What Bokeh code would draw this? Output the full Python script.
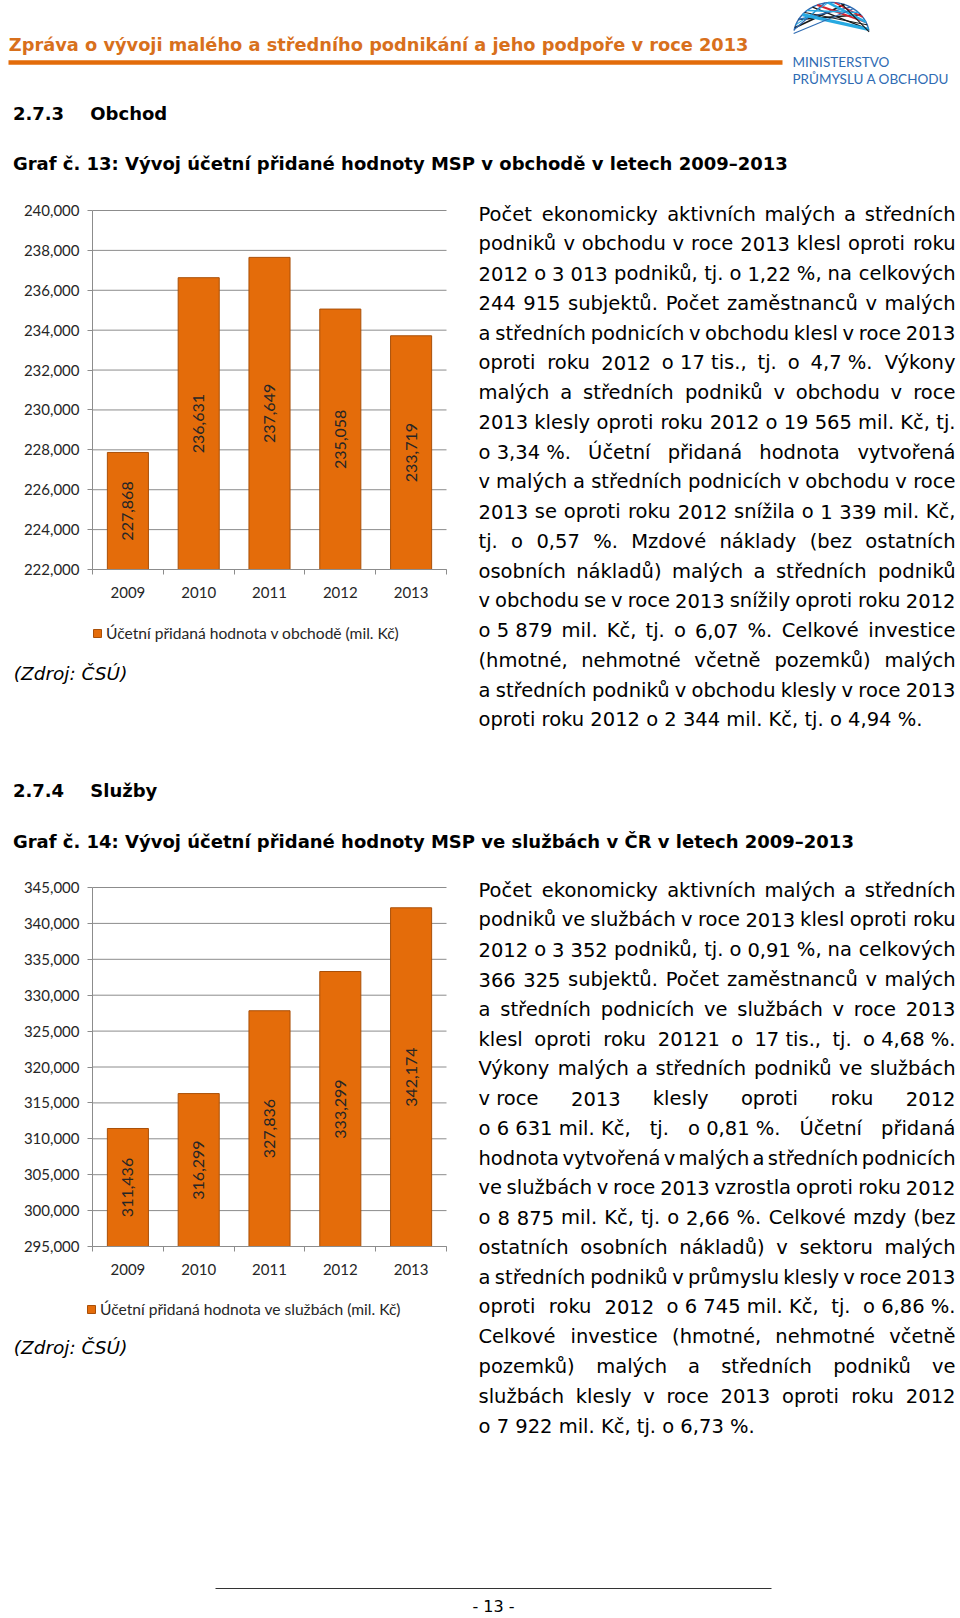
import numpy as np
from math import pi
from bokeh.plotting import figure
from bokeh.models import (ColumnDataSource, Range1d, FixedTicker, NumeralTickFormatter,
                          Legend, LegendItem, Label)
from bokeh.layouts import column, row
from bokeh.core.properties import value
from bokeh.embed import file_html
from bokeh.resources import INLINE

# ---------------- data ----------------
years = ["2009", "2010", "2011", "2012", "2013"]
obchod_values = [227868, 236631, 237649, 235058, 233719]
sluzby_values = [311436, 316299, 327836, 333299, 342174]
obchod_ticks = list(range(222000, 240001, 2000))
sluzby_ticks = list(range(295000, 345001, 5000))
obchod_legend = "Účetní přidaná hodnota v obchodě (mil. Kč)"
sluzby_legend = "Účetní přidaná hodnota ve službách (mil. Kč)"

header_title = "Zpráva o vývoji malého a středního podnikání a jeho podpoře v roce 2013"
logo_lines = ["MINISTERSTVO", "PRŮMYSLU A OBCHODU"]
sec1_num, sec1_name = "2.7.3", "Obchod"
graf1_title = "Graf č. 13: Vývoj účetní přidané hodnoty MSP v obchodě v letech 2009–2013"
sec2_num, sec2_name = "2.7.4", "Služby"
graf2_title = "Graf č. 14: Vývoj účetní přidané hodnoty MSP ve službách v ČR v letech 2009–2013"
source_note = "(Zdroj: ČSÚ)"
page_number = "- 13 -"

NB = "\u00a0"
para1 = [
    "Počet ekonomicky aktivních malých a středních",
    "podniků v obchodu v roce 2013 klesl oproti roku",
    "2012 o 3 013 podniků, tj. o 1,22 %, na celkových",
    "244 915 subjektů. Počet zaměstnanců v malých",
    "a středních podnicích v obchodu klesl v roce 2013",
    f"oproti roku 2012 o{NB}17{NB}tis., tj. o 4,7{NB}%. Výkony",
    "malých a středních podniků v obchodu v roce",
    "2013 klesly oproti roku 2012 o 19 565 mil. Kč, tj.",
    f"o{NB}3,34{NB}%. Účetní přidaná hodnota vytvořená",
    "v malých a středních podnicích v obchodu v roce",
    "2013 se oproti roku 2012 snížila o 1 339 mil. Kč,",
    "tj. o 0,57 %. Mzdové náklady (bez ostatních",
    "osobních nákladů) malých a středních podniků",
    "v obchodu se v roce 2013 snížily oproti roku 2012",
    f"o{NB}5{NB}879 mil. Kč, tj. o 6,07 %. Celkové investice",
    "(hmotné, nehmotné včetně pozemků) malých",
    "a středních podniků v obchodu klesly v roce 2013",
    "oproti roku 2012 o 2 344 mil. Kč, tj. o 4,94 %.",
]
para2 = [
    "Počet ekonomicky aktivních malých a středních",
    "podniků ve službách v roce 2013 klesl oproti roku",
    "2012 o 3 352 podniků, tj. o 0,91 %, na celkových",
    "366 325 subjektů. Počet zaměstnanců v malých",
    "a středních podnicích ve službách v roce 2013",
    f"klesl oproti roku 20121 o 17{NB}tis., tj. o{NB}4,68{NB}%.",
    "Výkony malých a středních podniků ve službách",
    f"v{NB}roce 2013 klesly oproti roku 2012",
    f"o{NB}6{NB}631{NB}mil.{NB}Kč, tj. o{NB}0,81{NB}%. Účetní přidaná",
    "hodnota vytvořená v malých a středních podnicích",
    "ve službách v roce 2013 vzrostla oproti roku 2012",
    "o 8 875 mil. Kč, tj. o 2,66 %. Celkové mzdy (bez",
    "ostatních osobních nákladů) v sektoru malých",
    "a středních podniků v průmyslu klesly v roce 2013",
    f"oproti roku 2012 o{NB}6{NB}745{NB}mil.{NB}Kč, tj. o{NB}6,86{NB}%.",
    "Celkové investice (hmotné, nehmotné včetně",
    "pozemků) malých a středních podniků ve",
    "službách klesly v roce 2013 oproti roku 2012",
    "o 7 922 mil. Kč, tj. o 6,73 %.",
]

# ---------------- styles ----------------
ORANGE = "#E46C0A"
BAR_LINE = "#A94F08"
GRID = "#8C8C8C"
DARK = "#262626"
TITLE_ORANGE = "#D8701C"
BODY_FONT = "DejaVu Sans"
CHART_FONT = "Lato"

# approximate DejaVu Sans advance widths (em)
W = {" ": .318, NB: .318, "%": .95, "(": .39, ")": .39, ",": .318, "-": .361, ".": .318,
     ":": .337, "A": .684, "C": .698, "K": .656, "M": .863, "P": .603, "U": .732,
     "V": .684, "Ú": .732, "Č": .698, "R": .695, "S": .635, "E": .632, "O": .787,
     "D": .770, "N": .748, "T": .611, "B": .686, "I": .295, "Y": .611, "L": .557,
     "H": .752, "G": .775, "Z": .685, "J": .295, "F": .575,
     "a": .613, "b": .635, "c": .55, "d": .635, "e": .615, "f": .352, "g": .635,
     "h": .634, "i": .278, "j": .278, "k": .579, "l": .278, "m": .974, "n": .634,
     "o": .612, "p": .635, "r": .411, "s": .521, "t": .392, "u": .634, "v": .592,
     "w": .818, "x": .592, "y": .592, "z": .525,
     "á": .613, "č": .55, "ě": .615, "é": .615, "í": .278, "ř": .411, "š": .521,
     "ů": .634, "ú": .634, "ý": .592, "ž": .525, "ň": .634}
for d in "0123456789":
    W[d] = .636


def tw(s, size):
    return sum(W.get(ch, 0.6) for ch in s) * size


def canvas(x0, x1, y0, y1):
    p = figure(width=int(x1 - x0), height=int(y1 - y0),
               x_range=Range1d(x0, x1), y_range=Range1d(y1, y0),
               x_axis_type=None, y_axis_type=None, min_border=0,
               output_backend="svg", toolbar_location=None)
    p.outline_line_color = None
    p.background_fill_color = "white"
    p.border_fill_color = "white"
    return p


def txt(p, x, y, s, size, font=BODY_FONT, style="normal", color="#000000", align="left"):
    p.text(x=[x], y=[y], text=[s], text_font=value(font), text_font_size=f"{size}px",
           text_font_style=style, text_color=color, text_align=align,
           text_baseline="middle")


def paragraph(p, lines, left, right, y0, pitch, size):
    buckets = {"left": ([], [], []), "center": ([], [], []), "right": ([], [], [])}
    for i, line in enumerate(lines):
        y = y0 + i * pitch
        toks = line.split(" ")
        if i == len(lines) - 1 or len(toks) == 1:
            b = buckets["left"]
            b[0].append(left); b[1].append(y); b[2].append(line)
            continue
        ws = [tw(t, size) for t in toks]
        gap = (right - left - sum(ws)) / (len(toks) - 1)
        x = left
        for j, (t, w) in enumerate(zip(toks, ws)):
            if j == 0:
                b = buckets["left"]; bx = left
            elif j == len(toks) - 1:
                b = buckets["right"]; bx = right
            else:
                b = buckets["center"]; bx = x + w / 2
            b[0].append(bx); b[1].append(y); b[2].append(t)
            x += w + gap
    for align, (xs, ys, ts) in buckets.items():
        if xs:
            p.text(x=xs, y=ys, text=ts, text_align=align, text_baseline="middle",
                   text_font=value(BODY_FONT), text_font_size=f"{size}px",
                   text_color="#000000")


def bar_chart(values, ticks, legend_label, fig_top, fig_bottom, frame_top, frame_bottom,
              leg_left, leg_center_y, note_left, note_center_y):
    """Figure spans page x 0..470; plot area spans page x 92..446."""
    fig_w, fx0, fx1 = 470, 92, 446
    n = len(years)
    ymin, ymax = ticks[0], ticks[-1]
    ux = (fx1 - fx0) / n
    uy = (frame_bottom - frame_top) / (ymax - ymin)
    xr = Range1d(-fx0 / ux, n + (fig_w - fx1) / ux)
    yr = Range1d(ymin - (fig_bottom - frame_bottom) / uy, ymax + (frame_top - fig_top) / uy)
    H = fig_bottom - fig_top
    p = figure(width=fig_w, height=H, x_range=xr, y_range=yr, min_border=0,
               output_backend="svg", toolbar_location=None)
    p.outline_line_color = None
    p.background_fill_color = "white"
    p.border_fill_color = "white"
    p.xgrid.visible = False
    p.ygrid.visible = False

    # horizontal gridlines at the tick values, spanning the category axis
    p.segment(x0=[0] * len(ticks), x1=[n] * len(ticks), y0=ticks, y1=ticks,
              line_color=GRID, line_width=1)

    src = ColumnDataSource(dict(
        x=[i + 0.5 for i in range(n)],
        top=values,
        mid=[(ymin + v) / 2 for v in values],
        label=[f"{v:,}" for v in values],
    ))
    r = p.vbar(x="x", top="top", bottom=ymin, width=0.58, source=src,
               fill_color=ORANGE, line_color=BAR_LINE, line_width=1)
    p.text(x="x", y="mid", text="label", angle=pi / 2, source=src,
           text_align="center", text_baseline="middle", text_font=value(CHART_FONT),
           text_font_size="16px", text_color=DARK)

    xa = p.xaxis[0]
    xa.fixed_location = ymin
    xa.bounds = (0, n)
    xa.ticker = FixedTicker(ticks=[i + 0.5 for i in range(n)],
                            minor_ticks=list(range(n + 1)))
    xa.major_label_overrides = {i + 0.5: y for i, y in enumerate(years)}
    xa.major_tick_out = 0
    xa.major_tick_in = 0
    xa.minor_tick_out = 5
    xa.minor_tick_in = 0
    xa.minor_tick_line_color = GRID
    xa.axis_line_color = GRID
    xa.major_label_standoff = 12
    xa.major_label_text_font = CHART_FONT
    xa.major_label_text_font_size = "15px"
    xa.major_label_text_color = DARK

    ya = p.yaxis[0]
    ya.fixed_location = 0
    ya.bounds = (ymin, ymax)
    ya.ticker = FixedTicker(ticks=ticks)
    ya.formatter = NumeralTickFormatter(format="0,0")
    ya.major_tick_out = 5
    ya.major_tick_in = 0
    ya.major_tick_line_color = GRID
    ya.minor_tick_line_color = None
    ya.axis_line_color = GRID
    ya.major_label_standoff = 8
    ya.major_label_text_font = CHART_FONT
    ya.major_label_text_font_size = "15px"
    ya.major_label_text_color = DARK

    leg_h = 18
    legend = Legend(items=[LegendItem(label=legend_label, renderers=[r])],
                    location=(leg_left, fig_bottom - (leg_center_y + leg_h / 2)),
                    glyph_width=10, glyph_height=10,
                    label_standoff=4, padding=0, margin=0, spacing=0,
                    label_height=leg_h, label_width=10,
                    border_line_color=None, background_fill_alpha=0,
                    label_text_font=CHART_FONT, label_text_font_size="15.6px",
                    label_text_color=DARK)
    p.add_layout(legend)
    p.add_layout(Label(x=note_left, y=fig_bottom - note_center_y,
                       x_units="screen", y_units="screen",
                       text=source_note, text_font=BODY_FONT, text_font_style="italic",
                       text_font_size="18.5px", text_color="#000000",
                       text_baseline="middle"))
    return p


PAGE_W = 960

# ---------------- header ----------------
head = canvas(0, PAGE_W, 0, 190)
txt(head, 8.3, 43.5, header_title, 17.8, style="bold", color=TITLE_ORANGE)
head.line(x=[8, 782], y=[62, 62], line_color="#E36C0A", line_width=4.5)
# logo globe (decorative wireframe)
cx, cy, rx, ry = 831, 36, 38, 34
def P(a):
    return (cx + rx * np.cos(np.radians(a)), cy - ry * np.sin(np.radians(a)))
ang = np.linspace(10, 170, 40)
head.line(x=cx + rx * np.cos(np.radians(ang)), y=cy - ry * np.sin(np.radians(ang)),
          line_color="#2E6BB3", line_width=1.4)
chords = [((165, 70), "#1a1a1a", 1.8), ((150, 40), "#1a1a1a", 1.5), ((120, 12), "#1a1a1a", 1.3),
          ((100, 168), "#2E6BB3", 1.3), ((60, 150), "#2E6BB3", 1.3), ((112, 25), "#D9232E", 2.0),
          ((85, 35), "#D9232E", 1.5), ((12, 140), "#27A9E1", 3.2), ((25, 95), "#27A9E1", 2.4),
          ((45, 130), "#27A9E1", 1.6), ((175, 55), "#2E6BB3", 1.1), ((8, 75), "#1a1a1a", 1.1),
          ((135, 20), "#1a1a1a", 1.0), ((95, 160), "#27A9E1", 1.2)]
for (a, b), col, lw in chords:
    (x1, y1), (x2, y2) = P(a), P(b)
    head.line(x=[x1, x2], y=[y1, y2], line_color=col, line_width=lw)
txt(head, 792, 61.5, logo_lines[0], 13.5, font="Lato", color="#2E6BB3")
txt(head, 792, 78, logo_lines[1], 13.5, font="Lato", color="#2E6BB3")
txt(head, 12.4, 112.5, sec1_num, 18, style="bold")
txt(head, 89.8, 112.5, sec1_name, 18, style="bold")
txt(head, 12.4, 163, graf1_title, 18, style="bold")

# ---------------- first block ----------------
chart1 = bar_chart(obchod_values, obchod_ticks, obchod_legend, 190, 740, 210, 569,
                   92, 632.7, 13.3, 673.3)
text1 = canvas(470, PAGE_W, 190, 740)
paragraph(text1, para1, 478, 955, 213.7, 29.75, 19.5)

# ---------------- middle ----------------
mid = canvas(0, PAGE_W, 740, 868)
txt(mid, 12.4, 789.7, sec2_num, 18, style="bold")
txt(mid, 89.8, 789.7, sec2_name, 18, style="bold")
txt(mid, 12.4, 841.3, graf2_title, 18, style="bold")

# ---------------- second block ----------------
chart2 = bar_chart(sluzby_values, sluzby_ticks, sluzby_legend, 868, 1445, 887, 1246,
                   86, 1309, 13.3, 1347)
text2 = canvas(470, PAGE_W, 868, 1445)
paragraph(text2, para2, 478, 955, 889.7, 29.77, 19.5)

# ---------------- footer ----------------
foot = canvas(0, PAGE_W, 1445, 1616)
foot.line(x=[215, 771], y=[1588, 1588], line_color="#333333", line_width=1)
txt(foot, 493, 1606, page_number, 16, align="center")

layout = column(head, row(chart1, text1), mid, row(chart2, text2), foot)
open("out.html", "w").write(file_html(layout, INLINE))
